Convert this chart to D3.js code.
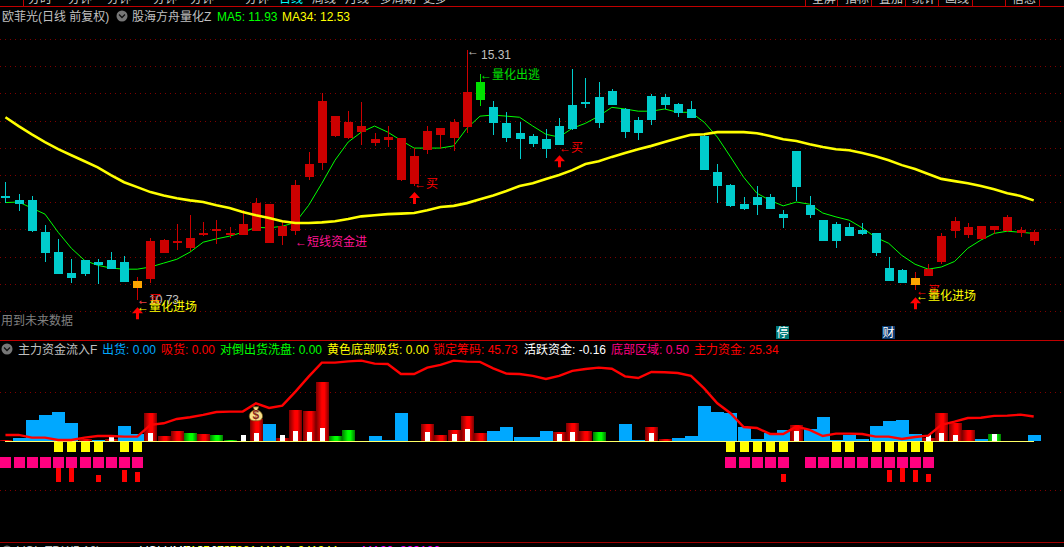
<!DOCTYPE html>
<html><head><meta charset="utf-8">
<script src="https://cdn.jsdelivr.net/npm/d3@7/dist/d3.min.js"></script>
<style>
html,body{margin:0;padding:0;background:#000;overflow:hidden}
svg{display:block}
text{font-family:"Liberation Sans","Noto Sans CJK SC",sans-serif;font-size:12px}
</style></head><body><svg id="c" width="1064" height="547"></svg>
<script>
const openP=[12.62,12.54,12.54,11.96,11.60,11.22,11.45,11.42,11.45,11.42,11.07,11.11,11.58,11.76,11.67,11.91,11.98,11.91,11.91,11.98,11.76,11.89,11.98,12.96,13.22,13.71,13.67,13.78,13.58,13.63,12.91,12.83,13.45,13.73,13.67,13.87,14.36,14.23,13.94,13.76,13.71,13.65,13.89,14.27,14.33,14.42,14.53,14.20,14.00,14.43,14.42,14.29,14.20,13.71,13.05,12.82,12.47,12.60,12.60,12.29,13.43,12.45,12.18,12.11,12.05,12.00,11.94,11.31,11.27,11.13,11.16,11.42,11.98,11.91,11.84,12.00,11.98,11.94,11.80];
const closeP=[12.58,12.47,11.98,11.58,11.20,11.13,11.20,11.36,11.29,11.05,10.94,11.80,11.82,11.80,11.85,11.94,12.02,11.94,12.11,12.49,12.47,12.07,12.82,13.20,14.34,14.07,13.96,13.89,13.65,13.69,13.67,13.34,13.80,13.85,13.96,14.51,14.69,13.94,13.67,13.65,13.56,13.47,13.54,13.83,14.29,13.94,14.27,13.78,13.76,14.00,14.27,14.13,14.04,13.09,12.80,12.44,12.38,12.45,12.38,12.22,12.78,12.27,11.80,11.80,11.89,11.93,11.58,11.07,11.03,11.00,11.29,11.89,12.16,12.05,12.07,12.07,12.24,12.00,11.96];
const highP=[12.87,12.65,12.62,12.09,11.84,11.47,11.45,11.47,11.60,11.53,11.14,11.85,11.84,12.11,12.27,12.14,12.18,12.05,12.36,12.58,12.47,12.16,12.91,13.42,14.49,14.07,14.16,14.33,13.76,13.89,13.67,13.49,13.89,13.85,14.02,15.28,14.83,14.34,14.14,13.96,13.74,13.83,14.04,14.93,14.76,14.69,14.56,14.22,14.05,14.47,14.47,14.31,14.34,13.74,13.20,12.83,12.60,12.80,12.65,12.36,13.43,12.62,12.18,12.14,12.13,12.13,11.94,11.51,11.29,11.24,11.38,11.94,12.24,12.13,12.07,12.07,12.27,12.05,12.00];
const lowP=[12.49,12.34,11.96,11.42,11.20,11.03,11.16,11.02,11.29,11.05,10.73,11.03,11.58,11.63,11.62,11.89,11.74,11.85,11.91,11.98,11.76,11.73,11.91,12.91,13.09,13.69,13.65,13.54,13.53,13.51,12.89,12.80,13.38,13.47,13.43,13.76,14.25,13.73,13.60,13.29,13.51,13.31,13.54,13.82,14.22,13.85,14.27,13.67,13.63,13.91,14.20,14.05,14.04,13.09,12.49,12.42,12.36,12.27,12.38,12.04,12.53,12.22,11.80,11.67,11.89,11.91,11.53,11.07,11.03,10.91,11.16,11.38,11.85,11.85,11.84,11.93,11.96,11.87,11.73];
const ma5=[12.50,12.51,12.40,12.29,11.96,11.67,11.45,11.36,11.31,11.29,11.29,11.33,11.40,11.47,11.60,11.78,11.84,11.89,11.96,12.05,12.04,12.07,12.14,12.45,12.85,13.27,13.60,13.78,13.89,13.78,13.63,13.49,13.49,13.49,13.53,13.85,14.07,14.09,14.07,14.05,13.89,13.74,13.69,13.85,13.94,14.07,14.23,14.20,14.16,14.16,14.20,14.14,14.14,13.96,13.69,13.33,12.96,12.67,12.54,12.44,12.51,12.47,12.31,12.24,12.18,12.04,11.87,11.76,11.54,11.38,11.29,11.33,11.43,11.67,11.82,11.94,11.98,11.96,11.94];
const ma34=[14.05,13.89,13.74,13.60,13.47,13.36,13.25,13.14,13.00,12.87,12.78,12.69,12.63,12.58,12.54,12.51,12.45,12.40,12.33,12.27,12.22,12.16,12.13,12.13,12.14,12.16,12.20,12.25,12.27,12.29,12.30,12.31,12.36,12.42,12.44,12.49,12.56,12.63,12.71,12.80,12.85,12.93,13.00,13.09,13.20,13.25,13.33,13.40,13.47,13.53,13.60,13.67,13.73,13.74,13.78,13.78,13.78,13.76,13.71,13.65,13.62,13.56,13.51,13.47,13.45,13.40,13.34,13.27,13.18,13.11,13.02,12.93,12.89,12.85,12.80,12.74,12.67,12.62,12.54];
const orangeDays=[10,69], greenDays=[36];
const priceGrid=[15.47,14.98,14.49,13.98,13.49,13.00,12.51,12.02,11.51,11.02,10.53];

const barValues=[1.4,3.4,21.8,26.9,29.9,18.7,2.7,1.4,2,15.6,7.5,28.9,5.4,10.5,8.5,7.5,6.5,1.4,0,22.4,17.7,3.4,32,31,60.5,5.4,11.6,0,5.4,1.4,28.9,0,17.7,6.5,11.6,25.9,8.5,10.5,14.6,4.4,4.4,10.5,9.5,18.7,10.5,9.5,0,17.7,1.4,14.6,2.4,3.4,5.4,36,29.9,28.9,14.6,2.4,8.5,11.6,16.7,12.6,24.8,1.4,6.5,2.4,15.6,20.7,21.8,7.5,3.4,28.9,18.7,11.6,2.4,7.5,0,0,6.5];
const barKinds="rbbbbbrbrbbrrrgrggnrbrrrrggnbbbnrrrrrbbbbbrrrgnbbrrbbbbbbbbbrbbbbbbbbbrrrrbgnnb";
const whiteDays=[8,11,18,19,21,22,23,24,32,34,35,42,43,49,60,70,71,72,75];
const whiteValues=[4.4,8.5,6.5,8.5,6.5,10.5,9.5,13.6,9.5,7.5,12.6,7.5,9.5,8.5,10.5,6.5,8.5,6.5,7.5];
const yellowDays=[4,5,6,7,9,10,55,56,57,58,59,63,64,66,67,68,69,70];
const pinkDays=[0,1,2,3,4,5,6,7,8,9,10,55,56,57,58,59,61,62,63,64,65,66,67,68,69,70];
const redDays=[4,5,7,9,10,59,67,68,69,70];
const redTops=[-27,-27,-34.4,-29.3,-31.3,-33.4,-29.3,-27,-29.3,-33.4];
const mainFlow=[6.5,6.5,3.7,3.7,1.4,1.4,3.7,5.4,5.4,4.8,4.8,16.7,18.4,22.8,24.5,26.9,29.9,30.3,30.3,38.8,34,36.4,50.7,66,80.3,80.3,81.6,82.3,79.3,78.9,68.7,68.7,75.2,77.9,82.3,81.3,81,74.5,69,68.7,66.7,63.6,66.7,71.8,73.8,75.2,74.1,66.3,64.6,70.7,70.4,69.7,66.7,54,38.8,28.6,14.6,13.6,7.5,7.5,15,11.6,5.4,7.8,7.8,7.5,4.8,4.8,2.4,4.4,5.8,16.7,20,23.8,24.1,25.9,26.2,27.2,25.34];
const flowGrid=[50,-50];

const svg=d3.select("#c");
const defs=svg.append("defs");
[["gr","#7a0000","#ff0000"],["gg","#007a00","#00ff00"]].forEach(([id,e,m])=>{
  const g=defs.append("linearGradient").attr("id",id);
  g.append("stop").attr("offset","0%").attr("stop-color",e);
  g.append("stop").attr("offset","45%").attr("stop-color",m);
  g.append("stop").attr("offset","65%").attr("stop-color",m);
  g.append("stop").attr("offset","100%").attr("stop-color",e);
});
svg.append("rect").attr("width",1064).attr("height",547).attr("fill","#000");

const x=d3.scaleLinear().domain([0,78]).range([5.45,1033.7]);
const cx=i=>Math.round(x(i));
const py=d3.scaleLinear().domain([16.18,10.73]).range([0,300]);
const fy=d3.scaleLinear().domain([50,-50]).range([392.3,490.3]);
const days=d3.range(openP.length);

// frame
const frame="#c00000";
[[0,6,1064,1],[0,340,1064,1]].forEach(r=>svg.append("rect").attr("x",r[0]).attr("y",r[1]).attr("width",r[2]).attr("height",r[3]).attr("fill",frame));
svg.append("rect").attr("x",0).attr("y",542).attr("width",1064).attr("height",1).attr("fill","#a00000");
[23,805,837,871,905,938,972,1005,1039].forEach(v=>svg.append("rect").attr("x",v).attr("y",0).attr("width",1).attr("height",6).attr("fill",frame));

// toolbar (clipped by the window top)
const tabs=[["分时",28,"#ccc"],["分钟",68,"#ccc"],["分钟",107,"#ccc"],["分钟",153,"#ccc"],["分钟",190,"#ccc"],["分钟",245,"#ccc"],["日线",279,"#00ffff"],["周线",312,"#ccc"],["月线",345,"#ccc"],["多周期",380,"#ccc"],["更多",423,"#ccc"],["全屏",812,"#ccc"],["指标",845,"#ccc"],["叠加",879,"#ccc"],["统计",912,"#ccc"],["画线",945,"#ccc"],["信息",1012,"#ccc"]];
svg.selectAll(".tab").data(tabs).join("text").attr("x",d=>d[1]).attr("y",3).attr("fill",d=>d[2]).attr("font-size",11).text(d=>d[0]);

// grid
const dots={stroke:"#800000","stroke-dasharray":"1 4"};
svg.selectAll(".g1").data(priceGrid).join("line").attr("x1",0).attr("x2",1064)
  .attr("y1",d=>Math.round(py(d))+.5).attr("y2",d=>Math.round(py(d))+.5).attr("stroke",dots.stroke).attr("stroke-dasharray",dots["stroke-dasharray"]);
svg.selectAll(".g2").data(flowGrid).join("line").attr("x1",0).attr("x2",1064)
  .attr("y1",d=>Math.round(fy(d))+.5).attr("y2",d=>Math.round(fy(d))+.5).attr("stroke",dots.stroke).attr("stroke-dasharray",dots["stroke-dasharray"]);

// MA lines
const ln=a=>d3.line().x((d,i)=>x(i)).y(d=>py(d))(a);
svg.append("path").attr("d",ln(ma5)).attr("fill","none").attr("stroke","#00ff00").attr("stroke-width",1);

// candles
function candleColor(i){
  if(orangeDays.includes(i))return "#ffa500";
  if(greenDays.includes(i))return "#00e000";
  return closeP[i]>=openP[i]?"#cc0000":"#00cccc";
}
function wickColor(i){ return orangeDays.includes(i)?"#cc0000":candleColor(i); }
const cg=svg.append("g").attr("shape-rendering","crispEdges");
cg.selectAll(".w").data(days).join("rect").attr("x",cx).attr("width",1)
  .attr("y",i=>Math.round(py(highP[i]))).attr("height",i=>Math.max(1,Math.round(py(lowP[i]))-Math.round(py(highP[i]))))
  .attr("fill",wickColor);
cg.selectAll(".b").data(days).join("rect").attr("x",i=>cx(i)-4).attr("width",9)
  .attr("y",i=>Math.round(py(Math.max(openP[i],closeP[i]))))
  .attr("height",i=>Math.max(2,Math.round(py(Math.min(openP[i],closeP[i])))-Math.round(py(Math.max(openP[i],closeP[i])))))
  .attr("fill",candleColor);
svg.append("path").attr("d",ln(ma34)).attr("fill","none").attr("stroke","#ffff00").attr("stroke-width",2.6);

// lower panel
const fillOf={r:"url(#gr)",g:"url(#gg)",b:"#00a8ff",n:"none"};
const bg=svg.append("g").attr("shape-rendering","crispEdges");
const y0=fy(0);
bg.selectAll(".v").data(days.filter(i=>barValues[i]>0)).join("rect")
  .attr("x",i=>cx(i)-6).attr("width",13).attr("y",i=>fy(barValues[i])).attr("height",i=>y0-fy(barValues[i]))
  .attr("fill",i=>fillOf[barKinds[i]]);
bg.selectAll(".wh").data(whiteDays).join("rect")
  .attr("x",i=>cx(i)-2).attr("width",5).attr("y",(i,k)=>fy(whiteValues[k])).attr("height",(i,k)=>y0-fy(whiteValues[k])).attr("fill","#fff");
bg.append("rect").attr("x",cx(0)).attr("y",441).attr("width",cx(78)-cx(0)).attr("height",1).attr("fill","#ffff66");
bg.selectAll(".yb").data(yellowDays).join("rect").attr("x",i=>cx(i)-4).attr("width",9).attr("y",fy(-1)).attr("height",fy(-11)-fy(-1)).attr("fill","#ffff00");
bg.selectAll(".pb").data(pinkDays).join("rect").attr("x",i=>cx(i)-5).attr("width",11).attr("y",fy(-16)).attr("height",fy(-27)-fy(-16)).attr("fill","#ff0080");
bg.selectAll(".rb").data(redDays).join("rect").attr("x",i=>cx(i)-2).attr("width",5).attr("y",(i,k)=>fy(redTops[k])).attr("height",(i,k)=>fy(-41.5)-fy(redTops[k])).attr("fill","#ff0000");
svg.append("path").attr("d",d3.line().x((d,i)=>x(i)).y(d=>fy(d))(mainFlow)).attr("fill","none").attr("stroke","#ff0000").attr("stroke-width",2.4);

// money bag
const bag=svg.append("g").attr("transform",`translate(${x(19)},${fy(28)})`);
bag.append("path").attr("d","M-3,-7 L3,-7 L1.5,-4 C6,-2 7,1 6.5,3.5 C6,6.5 3,7 0,7 C-3,7 -6,6.5 -6.5,3.5 C-7,1 -6,-2 -1.5,-4 Z").attr("fill","#f7e08a").attr("stroke","#7a5a10").attr("stroke-width",.7);
bag.append("text").attr("y",5.5).attr("text-anchor","middle").attr("fill","#8a2a20").attr("font-size",11).attr("font-weight","bold").text("$");

// arrows
const arrowDays=[10,31,42,69], arrowLow=[10.60,12.69,13.36,10.78];
svg.selectAll(".ar").data(arrowDays).join("path").attr("fill","#ff0000")
 .attr("d",(i,k)=>{const c=cx(i)+.5,t=py(arrowLow[k]);return `M${c},${t} L${c+5.5},${t+6} L${c+1.5},${t+6} L${c+1.5},${t+12} L${c-1.5},${t+12} L${c-1.5},${t+6} L${c-5.5},${t+6} Z`;});

// labels
const T=(s,xp,yp,col,sz)=>svg.append("text").attr("x",xp).attr("y",yp).attr("fill",col).attr("font-size",sz||12).text(s);
T("欧菲光(日线 前复权)",2,21,"#c0c0c0");
T("股海方舟量化Z",132,21,"#c0c0c0");
T("MA5: 11.93",217,21,"#00ff00",11.5);
T("MA34: 12.53",282,21,"#ffff00",11.5);
[[122,16],[7,349]].forEach(([a,b])=>{
  svg.append("circle").attr("cx",a).attr("cy",b).attr("r",5.5).attr("fill","#777");
  svg.append("path").attr("d",`M${a-3},${b-1.5} L${a},${b+1.5} L${a+3},${b-1.5}`).attr("fill","none").attr("stroke","#111").attr("stroke-width",1.3);
});
T("←10.73",137,304,"#c0c0c0");
T("←买",137,304,"#ff0000");
T("←量化进场",137,311,"#ffff00");
T("用到未来数据",1,325,"#808080");
T("←短线资金进",295,246,"#ff1493");
T("←买",414,188,"#ff0000");
T("←买",559,152,"#ff0000");
T("←",467,55,"#c0c0c0");
T("15.31",481,59,"#c0c0c0");
T("←量化出逃",480,79,"#00e000");
T("←买",916,295,"#ff0000");
T("←量化进场",916,300,"#ffff00");
[["停",776,"#007878"],["财",882,"#0a3a70"]].forEach(([s,a,c])=>{
  svg.append("rect").attr("x",a).attr("y",326).attr("width",13).attr("height",13).attr("fill",c);
  T(s,a+.5,337,"#ffffff");
});
const lower=[["主力资金流入F",18,"#c0c0c0"],["出货: 0.00",102,"#00a8ff"],["吸货: 0.00",161,"#ff0000"],["对倒出货洗盘: 0.00",220,"#00ff00"],["黄色底部吸货: 0.00",327,"#ffff00"],["锁定筹码: 45.73",433,"#ff0000"],["活跃资金: -0.16",524,"#ffffff"],["底部区域: 0.50",611,"#ff0080"],["主力资金: 25.34",694,"#ff0000"]];
lower.forEach(d=>T(d[0],d[1],354,d[2]));
svg.append("circle").attr("cx",7).attr("cy",551).attr("r",5.5).attr("fill","#777");
[["VOL-TDX(5,10) ",17,"#c0c0c0"],["VOLUME: 996799",140,"#ffffff"],["MA5: 987381  MA10: 941344",185,"#ffff00"],["MA20: 893126",362,"#ff00ff"]].forEach(d=>T(d[0],d[1],555,d[2]));
</script></body></html>
